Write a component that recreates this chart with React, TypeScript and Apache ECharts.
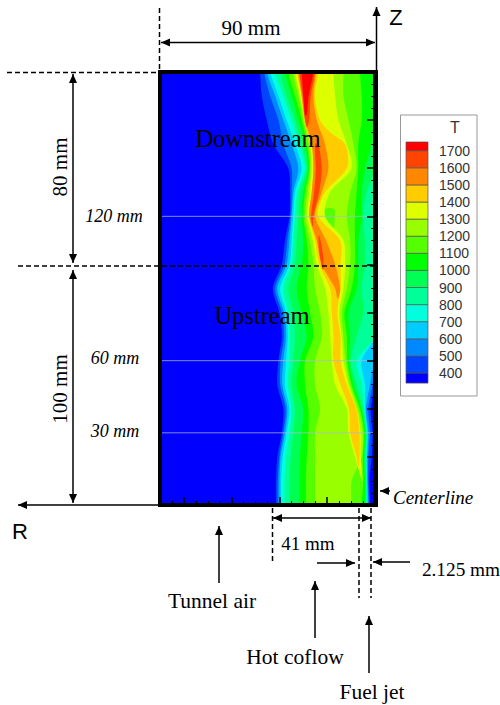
import React, { useEffect, useRef } from "react";
import * as echarts from "echarts";

// rows: [Z mm, R of the outer edge mm, R of the inner edge mm]
const T341 = [[180,95,0],[0,95,0]];
const T400 = [[180,48.1,0],[170,47.4,0],[160,45.3,0],[150,42.5,0],[140,36.3,0],[130,35.6,0],[120,35.8,0],[110,37.7,0],[100,39,0],[90,42.8,0],[80,40,0],[70,39,0],[60,40.4,0],[50,40.9,0],[40,38.4,1.8],[30,39,1],[20,40.9,1.4],[10,41.4,2.4],[0,41.4,2.1]];
const T500 = [[180,46.4,0],[170,43.9,0],[160,40.4,0],[150,38.4,0],[140,34.9,0],[130,34.9,0],[120,35.3,0],[110,36.7,0],[100,37.9,0],[90,41.8,0],[80,39,0],[70,38.1,0],[60,39.5,0],[50,39.7,1],[40,37.4,2.8],[30,38.4,2.1],[20,40,2.8],[10,40.7,2.9],[0,40.7,2.5]];
const T600 = [[180,45.3,0],[170,41.8,0],[160,38.4,0],[150,34.9,0],[140,32.1,0],[130,34.2,0],[120,34.9,0],[110,35.8,0],[100,37,0],[90,40.9,0],[80,38.1,0],[70,37.2,0],[60,38.4,0.4],[50,38.8,2.1],[40,36.7,3.8],[30,37.7,2.8],[20,39.5,3.2],[10,40,3.2],[0,40,2.9]];
const T700 = [[180,43.9,0],[170,40.4,0],[160,37,0],[150,33.5,0],[140,30.7,0],[130,33.5,0],[120,34.2,0],[110,34.9,0],[100,35.8,0],[90,39.7,0],[80,37.2,0],[70,36.5,0],[60,37.2,5.6],[50,37.7,4.2],[40,35.8,4.2],[30,37,3.2],[20,38.6,3.5],[10,39.3,3.3],[0,39.3,3.2]];
const T800 = [[180,41.8,0],[170,38.4,0],[160,34.9,0],[150,31.7,0],[140,29.3,0],[130,32.5,0],[120,33.5,0],[110,34.2,0],[100,34.9,0],[90,38.4,0],[80,36.3,0],[70,35.6,0],[60,35.8,7.7],[50,36.5,5.6],[40,34.9,4.6],[30,35.8,3.5],[20,37.2,3.7],[10,37.9,3.6],[0,37.9,3.5]];
const T900 = [[180,39.7,0],[170,37,0],[160,33.5,0],[150,30.7,0],[140,28.6,0],[130,31.4,3.5],[120,32.1,5.1],[110,32.8,4.2],[100,33.5,4.2],[90,36.3,5.6],[80,34.2,4.9],[70,33.5,7.7],[60,34.2,10.2],[50,34.9,7.7],[40,33.5,5.1],[30,34.2,3.7],[20,35.3,4.2],[10,35.8,3.9],[0,35.8,3.8]];
const T1000 = [[180,37.7,0],[170,34.9,0],[160,32.1,0],[150,29.3,1.4],[140,27.9,4.2],[130,30,5.6],[120,30.7,5.6],[110,30,7],[100,30.7,7],[90,32.8,7.7],[80,30.7,11.1],[70,28.6,10.4],[60,31.4,10.9],[50,32.8,9],[40,30,5.6],[30,30.7,4.2],[20,31.4,4.6],[10,31.7,4.2],[0,31.7,4.2]];
const T1100 = [[180,36.3,6.3],[170,33.5,5.6],[160,30.7,5.6],[150,28.6,7],[140,27.5,7],[130,29.3,7.7],[120,30,8.4],[110,28.6,8.4],[100,27.9,8.4],[90,28.6,9.8],[80,27.2,12.8],[70,25.8,11.8],[60,29.3,11.6],[50,29.3,9.8],[40,27.9,6.3],[30,27.9,4.6],[20,28.6,5.1],[10,28.9,4.9],[0,28.9,5.6]];
const T1200 = [[180,34.4,13.2],[170,32,13.2],[160,30,11.1],[150,27.9,9],[140,27.2,7.7],[130,28.3,10.4],[120,29.3,11.8],[110,27.2,10.4],[100,25.8,10.4],[90,25.1,11.8],[80,23,13.9],[70,22.3,13.2],[60,25.1,12.3],[50,25.1,10.4],[40,23,7],[30,25.1,5.1],[20,25.1,5.6],[10,25.1,9.8],[0,25.1,9.8]];
const PATCH1100 = [[123,21,17],[118,21.5,17],[113,20,17.5]];
const T1300 = [[180,33.5,17.4],[170,31.4,16.7],[160,29.3,15.3],[150,27.2,11.8],[140,26.5,9.8],[130,27.5,18.8],[120,28.3,20.9],[110,26,13.2],[100,24.4,12.5],[90,20.9,13.2],[80,19.5,14.9],[70,18.8,13.9],[60,18.1,13.2],[50,16.7,11.1],[40,11.8,7.7],[30,11.1,6],[20,8.4,6],[10,5.4,5.2]];
const T1400 = [[180,32.8,23.7],[170,30.7,25.1],[160,29.6,23],[155,28.3,18.8],[150,26.5,12.5],[140,25.8,11.8],[130,26.5,20.9],[120,27.5,23.7],[110,25.1,14.6],[100,23.3,14.4],[90,18.8,14.4],[80,18.1,15.8],[70,17.4,14.4],[60,17.4,14.4],[50,14.4,11.8],[40,10.9,7.9],[30,10.4,6.5],[20,7.7,6.5],[16,7,6.7]];
const T1500 = [[180,32.1,24.7],[170,30.7,25.8],[160,29.3,24.4],[150,26.5,20.9],[140,25.8,19.5],[130,26.5,22.3],[120,27.5,25],[110,24.4,20.5],[100,22.3,16.7],[90,16.7,14.6],[86,15.8,15.3]];
const T1600A = [[180,31.7,25.1],[170,30.3,26.9],[160,29.3,27.5],[157,28.6,28.3]];
const T1600B = [[150,25.1,23.7],[140,24.8,22.3],[130,25.5,23.4],[120,26.8,25.8],[116,26.2,25.9]];
const T1600C = [[112,23.7,23.3],[105,23.3,21.9],[98,22,21.5]];
const T1700 = [[180,30.7,25.8],[170,30,27.8],[162,29.3,28.6]];

const contourTemps = [341,400,500,600,700,800,900,1000,1100,1200,1100,1300,1400,1500,1600,1600,1600,1700];
const contourRows = [T341,T400,T500,T600,T700,T800,T900,T1000,T1100,T1200,PATCH1100,T1300,T1400,T1500,T1600A,T1600B,T1600C,T1700];

const legendEdges = [341,400,500,600,700,800,900,1000,1100,1200,1300,1400,1500,1600,1700,1751];
const legendColors = ["#0000ff","#0044ff","#0088ff","#00ccff","#00ffdd","#00ff99","#00ff55","#00ff00","#55ff00","#99ff00","#ddff00","#ffcc00","#ff8800","#ff4400","#ff0000"];
const sliceHeights = [30,60,120];

const colorOf = (t: number) => legendColors[legendEdges.indexOf(t)];
const SERIF = "Liberation Serif";

function head(x: number, y: number, dx: number, dy: number) {
  const L = 9, W = 4;
  const bx = x - dx * L, by = y - dy * L;
  return {
    type: "polygon", z: 50,
    shape: { points: [[x, y], [bx - dy * W, by + dx * W], [bx + dy * W, by - dx * W]] },
    style: { fill: "#000" },
  };
}
function arrow(x1: number, y1: number, x2: number, y2: number, both = false) {
  const len = Math.hypot(x2 - x1, y2 - y1);
  const dx = (x2 - x1) / len, dy = (y2 - y1) / len;
  const out: any[] = [
    { type: "line", z: 50, shape: { x1, y1, x2, y2 }, style: { stroke: "#000", lineWidth: 1.5 } },
    head(x2, y2, dx, dy),
  ];
  if (both) out.push(head(x1, y1, -dx, -dy));
  return out;
}
const dash = (x1: number, y1: number, x2: number, y2: number) => ({
  type: "line", z: 50, shape: { x1, y1, x2, y2 },
  style: { stroke: "#000", lineWidth: 1.5, lineDash: [5, 3] },
});
const label = (text: string, x: number, y: number, size: number, opts: any = {}) => ({
  type: "text", z: 60, x, y, rotation: opts.rotation || 0,
  style: {
    text, x: 0, y: 0, fill: opts.fill || "#000",
    font: `${opts.italic ? "italic " : ""}${size}px "${opts.family || SERIF}"`,
    textAlign: opts.align || "center", textVerticalAlign: "middle",
  },
});

export default function App() {
  const ref = useRef<HTMLDivElement>(null);
  useEffect(() => {
    const chart = echarts.init(ref.current!, undefined, { renderer: "svg" });
    chart.setOption({
      animation: false,
      backgroundColor: "#fff",
      grid: [
        { left: 160, top: 72, width: 215, height: 433, show: true, backgroundColor: "#0000ff", borderWidth: 0 },
        { left: 406, top: 133.6, width: 22, height: 256.5 },
      ],
      xAxis: [
        {
          gridIndex: 0, type: "value", inverse: true, min: 0, max: 90, interval: 20, z: 10,
          axisLine: { lineStyle: { color: "#000", width: 4 } },
          axisTick: { inside: true, length: 8, lineStyle: { color: "#000", width: 1.5 } },
          minorTick: { show: true, splitNumber: 4, length: 4, lineStyle: { color: "#000", width: 1 } },
          axisLabel: { show: false }, splitLine: { show: false },
        },
        { gridIndex: 1, type: "value", min: 0, max: 1, show: false },
      ],
      yAxis: [
        {
          gridIndex: 0, type: "value", position: "right", min: 0, max: 180, interval: 20, z: 10,
          axisLine: { show: true, lineStyle: { color: "#000", width: 4 } },
          axisTick: { show: true, inside: true, length: 8, lineStyle: { color: "#000", width: 1.5 } },
          minorTick: { show: true, splitNumber: 4, length: 4, lineStyle: { color: "#000", width: 1 } },
          axisLabel: { show: false }, splitLine: { show: false },
        },
        {
          gridIndex: 1, type: "value", position: "right", min: 300, max: 1800, interval: 100, z: 10,
          axisLine: { show: false }, axisTick: { show: false }, splitLine: { show: false },
          axisLabel: {
            show: true, margin: 11, color: "#333", fontFamily: "Liberation Sans", fontSize: 14,
            padding: [12, 0, 0, 0], showMinLabel: false, showMaxLabel: false,
            formatter: (v: number) => String(v),
          },
        },
      ],
      series: [
        {
          type: "custom", xAxisIndex: 0, yAxisIndex: 0, clip: true, z: 2,
          data: contourRows.map((_, i) => [i]),
          renderItem: (params: any, api: any) => {
            const rows = contourRows[params.dataIndex];
            const pad = (z: number) => (z >= 180 ? 186 : z <= 0 ? -6 : null);
            const pts: number[][] = [];
            const first = rows[0], last = rows[rows.length - 1];
            if (pad(first[0]) !== null) pts.push(api.coord([first[1], pad(first[0])]));
            rows.forEach((r) => pts.push(api.coord([r[1], r[0]])));
            if (pad(last[0]) !== null) {
              pts.push(api.coord([last[1], pad(last[0])]));
              pts.push(api.coord([last[2], pad(last[0])]));
            }
            for (let i = rows.length - 1; i >= 0; i--) pts.push(api.coord([rows[i][2], rows[i][0]]));
            if (pad(first[0]) !== null) pts.push(api.coord([first[2], pad(first[0])]));
            return {
              type: "polygon",
              shape: { points: pts, smooth: 0.3 },
              style: { fill: colorOf(contourTemps[params.dataIndex]) },
            };
          },
        },
        ...sliceHeights.map((z) => ({
          type: "line", xAxisIndex: 0, yAxisIndex: 0, z: 3, silent: true, symbol: "none",
          data: [[90, z], [0, z]],
          lineStyle: { color: "rgba(170,185,215,0.75)", width: 1 },
        })),
        {
          type: "custom", xAxisIndex: 1, yAxisIndex: 1, z: 2,
          data: legendColors.map((_, i) => [i]),
          renderItem: (params: any, api: any) => {
            const i = params.dataIndex;
            const a = api.coord([0, legendEdges[i + 1]]);
            const b = api.coord([1, legendEdges[i]]);
            return {
              type: "rect",
              shape: { x: a[0], y: a[1], width: b[0] - a[0], height: b[1] - a[1] },
              style: { fill: legendColors[i], stroke: "#555", lineWidth: 0.7 },
            };
          },
        },
      ],
      graphic: [
        { type: "rect", z: 40, shape: { x: 160, y: 72, width: 216, height: 433 }, style: { fill: "none", stroke: "#000", lineWidth: 4 } },
        { type: "rect", z: 1, shape: { x: 400.5, y: 115, width: 76.5, height: 281 }, style: { fill: "#fff", stroke: "#999", lineWidth: 1 } },
        label("T", 455, 127, 16, { family: "Liberation Sans", fill: "#333" }),
        dash(159.5, 8, 159.5, 72),
        dash(7, 72.5, 160, 72.5),
        dash(18, 266, 375, 266),
        ...arrow(161, 42.5, 375, 42.5, true),
        label("90 mm", 251, 28, 21),
        ...arrow(376.5, 72, 376.5, 7),
        label("Z", 396, 17, 22, { family: "Liberation Sans" }),
        ...arrow(160, 505, 18, 505),
        label("R", 20, 531, 22, { family: "Liberation Sans" }),
        ...arrow(73, 74, 73, 263, true),
        label("80 mm", 60, 167, 21, { rotation: Math.PI / 2 }),
        ...arrow(73, 270, 73, 503, true),
        label("100 mm", 60, 389, 21, { rotation: Math.PI / 2 }),
        label("120 mm", 114, 216, 18, { italic: true }),
        label("60 mm", 115, 358, 18, { italic: true }),
        label("30 mm", 115, 431, 18, { italic: true }),
        label("Downstream", 258, 138, 24.5),
        label("Upstream", 262, 315, 24.5),
        ...arrow(390, 491, 380, 491),
        label("Centerline", 393, 497, 19, { italic: true, align: "left" }),
        dash(272.5, 508, 272.5, 561),
        dash(359, 508, 359, 598),
        dash(371, 508, 371, 598),
        ...arrow(273, 518, 371, 518, true),
        label("41 mm", 308, 543, 19),
        ...arrow(317, 563, 355, 563),
        ...arrow(410, 562, 373, 562),
        label("2.125 mm", 461, 569, 19.3),
        ...arrow(219, 583, 219, 526),
        label("Tunnel air", 212, 601, 21.5),
        ...arrow(315, 638, 315, 581),
        label("Hot coflow", 295, 657, 21.5),
        ...arrow(369, 673, 369, 616),
        label("Fuel jet", 372, 692, 21.5),
      ],
    });
    return () => chart.dispose();
  }, []);
  return <div ref={ref} style={{ position: "absolute", left: 0, top: 0, width: 500, height: 705 }} />;
}
